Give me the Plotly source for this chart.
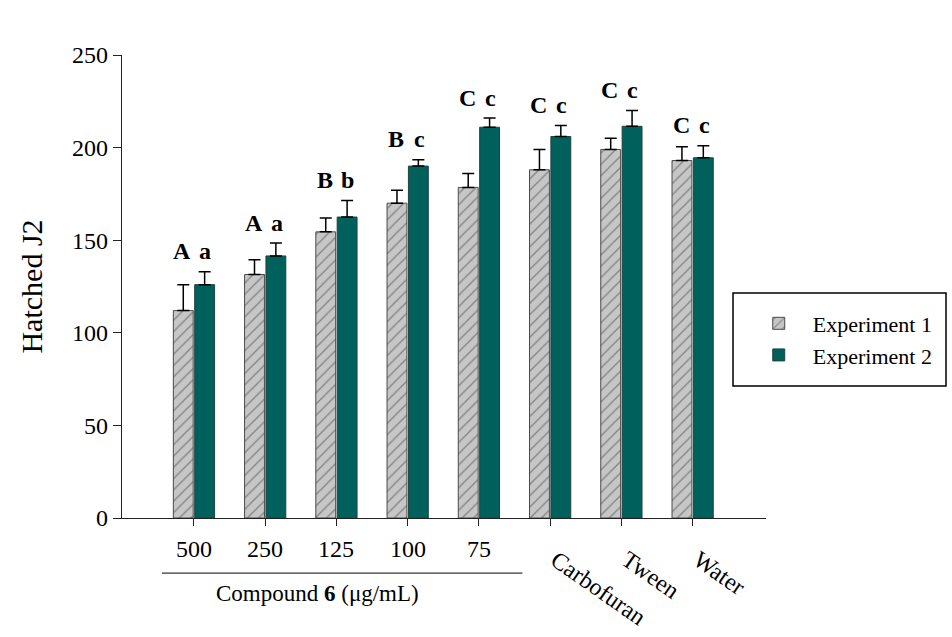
import plotly.graph_objects as go

categories = ["500", "250", "125", "100", "75", "Carbofuran", "Tween", "Water"]
exp1 = [112, 131.5, 154.5, 170, 178.5, 188, 199, 193]
err1 = [14, 8, 7.5, 7, 7.5, 11, 6, 7.5]
exp2 = [126, 141.5, 162.5, 190, 211, 206, 211.5, 194.5]
err2 = [7, 7, 9, 3.5, 5, 6, 8.5, 6.5]
letters1 = ["A", "A", "B", "B", "C", "C", "C", "C"]
letters2 = ["a", "a", "b", "c", "c", "c", "c", "c"]
yticks = [0, 50, 100, 150, 200, 250]

FONT = "Liberation Serif, Times New Roman, serif"
GREEN = "#00605b"

fig = go.Figure()
fig.add_trace(go.Bar(
    x=categories, y=exp1, name="Experiment 1",
    marker=dict(color="#c6c6c6", line=dict(color="#4a4a4a", width=1),
                pattern=dict(shape="/", fgcolor="#3c3c3c", bgcolor="#c6c6c6",
                             size=8, solidity=0.16)),
    error_y=dict(type="data", array=err1, arrayminus=[0] * len(err1),
                 symmetric=False, color="black", thickness=1.5, width=6),
))
fig.add_trace(go.Bar(
    x=categories, y=exp2, name="Experiment 2",
    marker=dict(color=GREEN, line=dict(color="#1e4340", width=1)),
    error_y=dict(type="data", array=err2, arrayminus=[0] * len(err2),
                 symmetric=False, color="black", thickness=1.5, width=6),
))

annotations = []
for i, cat in enumerate(categories):
    top = max(exp1[i] + err1[i], exp2[i] + err2[i]) + 11
    annotations.append(dict(x=i, y=top, xref="x", yref="y", text="<b>%s</b>" % letters1[i],
                            showarrow=False, xshift=-11.5, yanchor="middle",
                            font=dict(family=FONT, size=24, color="black")))
    annotations.append(dict(x=i, y=top, xref="x", yref="y", text="<b>%s</b>" % letters2[i],
                            showarrow=False, xshift=11.5, yanchor="middle",
                            font=dict(family=FONT, size=24, color="black")))
    if i < 5:
        annotations.append(dict(x=i, y=0, xref="x", yref="paper", text=cat,
                                showarrow=False, xanchor="center", yanchor="middle",
                                yshift=-31, font=dict(family=FONT, size=24, color="black")))
    else:
        annotations.append(dict(x=i, y=0, xref="x", yref="paper", text=cat,
                                showarrow=False, xanchor="left", yanchor="top",
                                textangle=35, xshift=-7, yshift=-25,
                                font=dict(family=FONT, size=24, color="black")))

annotations.append(dict(x=2, y=-0.163, xref="x", yref="paper",
                        text="Compound <b>6</b> (μg/mL)", showarrow=False,
                        xanchor="center", yanchor="middle", xshift=-19,
                        font=dict(family=FONT, size=23, color="black")))

shapes = [
    dict(type="line", xref="x", yref="paper", x0=-0.45, x1=4.61,
         y0=-0.119, y1=-0.119, line=dict(color="black", width=1)),
    dict(type="rect", xref="paper", yref="paper", x0=0.9488, x1=1.2795,
         y0=0.285, y1=0.486, line=dict(color="black", width=1.5),
         fillcolor="rgba(0,0,0,0)"),
]

fig.update_layout(
    width=952, height=637, autosize=False,
    margin=dict(l=122, r=186, t=55, b=119),
    paper_bgcolor="white", plot_bgcolor="white",
    barmode="group", bargap=0.4, bargroupgap=0.07,
    font=dict(family=FONT, size=22, color="black"),
    showlegend=True,
    legend=dict(x=0.967, y=0.3855, xanchor="left", yanchor="middle",
                borderwidth=0, bgcolor="rgba(0,0,0,0)",
                font=dict(family=FONT, size=22, color="black"),
                itemwidth=58, tracegroupgap=0),
    annotations=annotations, shapes=shapes,
    xaxis=dict(type="category", range=[-1.01, 8.03], showline=True,
               linecolor="#222", linewidth=1.2, ticks="outside", ticklen=7,
               tickcolor="#222", showticklabels=False, showgrid=False, zeroline=False),
    yaxis=dict(range=[0, 250], tickvals=yticks, showline=True, linecolor="#222",
               linewidth=1.2, ticks="outside", ticklen=8, tickcolor="#222",
               showgrid=False, zeroline=False,
               tickfont=dict(family=FONT, size=24, color="black"),
               title=dict(text="Hatched J2", standoff=20,
                          font=dict(family=FONT, size=30, color="black"))),
)

fig.write_html("out.html")
